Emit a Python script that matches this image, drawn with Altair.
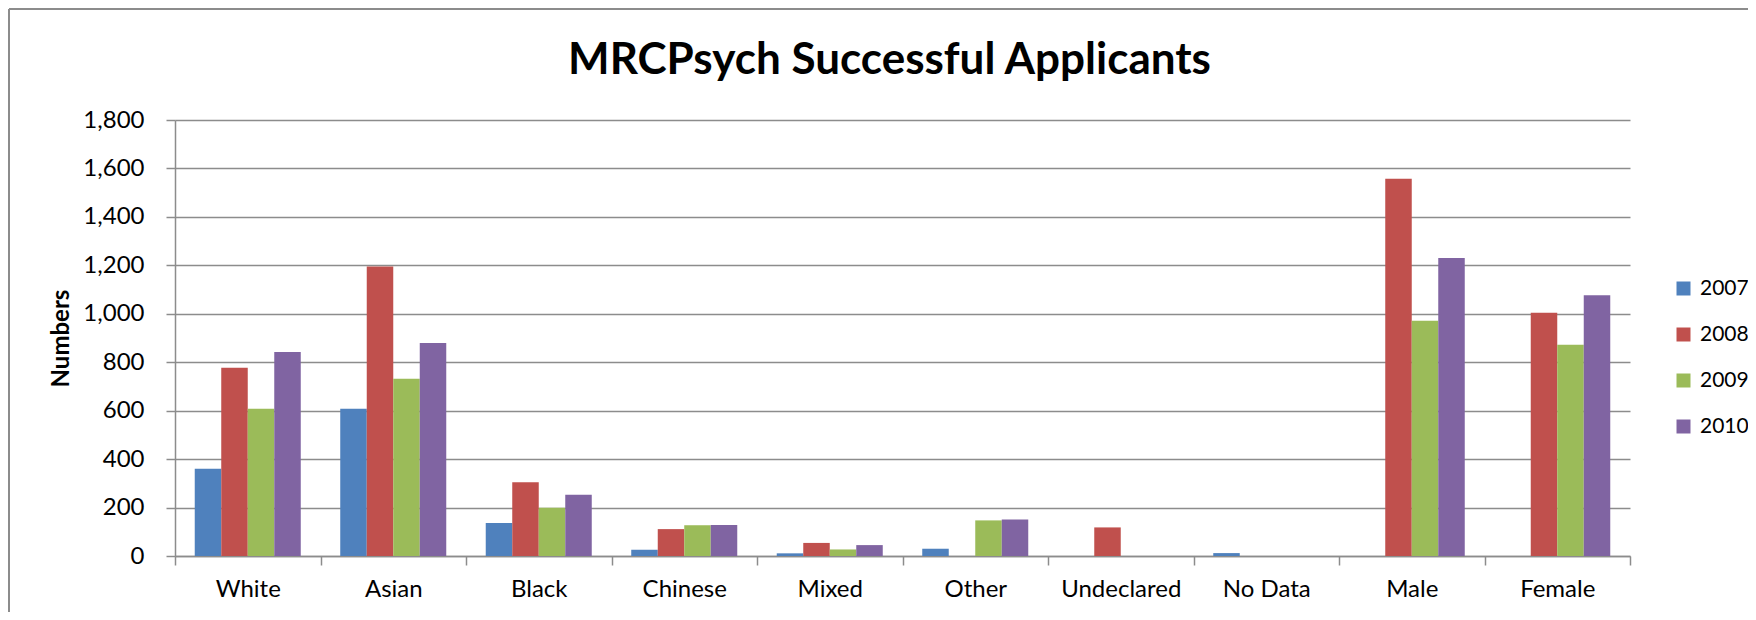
import altair as alt
import pandas as pd

categories = ["White", "Asian", "Black", "Chinese", "Mixed", "Other",
              "Undeclared", "No Data", "Male", "Female"]
years = ["2007", "2008", "2009", "2010"]
v2007 = [360, 608, 136, 26, 11, 30, 0, 12, 0, 0]
v2008 = [777, 1195, 304, 111, 54, 0, 118, 0, 1557, 1004]
v2009 = [608, 732, 199, 127, 27, 147, 0, 0, 971, 872]
v2010 = [842, 879, 253, 128, 45, 151, 0, 0, 1230, 1077]
colors = ["#4F81BD", "#C0504D", "#9BBB59", "#8064A2"]
y_ticks = [0, 200, 400, 600, 800, 1000, 1200, 1400, 1600, 1800]

series = {"2007": v2007, "2008": v2008, "2009": v2009, "2010": v2010}
rows = []
for yr in years:
    for cat, val in zip(categories, series[yr]):
        rows.append({"Category": cat, "Year": yr, "Value": val})
df = pd.DataFrame(rows)

W, H = 1455, 436
PAD = {"left": 167, "top": 112, "right": 118, "bottom": 56}
GREY = "#8c8c8c"

bars = alt.Chart(df).mark_bar().encode(
    x=alt.X("Category:N", sort=categories,
            scale=alt.Scale(paddingInner=0, paddingOuter=0),
            axis=alt.Axis(title=None, labelFont="Lato", labelFontSize=24,
                          labelColor="black", labelAngle=0, tickBand="extent",
                          ticks=True, tickSize=9, tickColor=GREY, tickWidth=1.5,
                          domainColor=GREY, domainWidth=1.5, labelPadding=12,
                          grid=False)),
    xOffset=alt.XOffset("Year:N", sort=years,
                        scale=alt.Scale(paddingInner=0, paddingOuter=0.745)),
    y=alt.Y("Value:Q", scale=alt.Scale(domain=[0, 1800], nice=False),
            axis=alt.Axis(values=y_ticks, format=",.0f", title="Numbers",
                          titleFont="Lato", titleFontSize=24, titleFontWeight="bold",
                          titleColor="black", titlePadding=14, titleBaseline="alphabetic",
                          labelFont="Lato", labelFontSize=24, labelColor="black",
                          labelPadding=22, tickSize=9, tickColor=GREY, tickWidth=1.5,
                          domainColor=GREY, domainWidth=1.5,
                          gridColor=GREY, gridWidth=1.5)),
    color=alt.Color("Year:N", scale=alt.Scale(domain=years, range=colors),
                    legend=alt.Legend(title=None, orient="none", legendX=1498, legendY=158,
                                      symbolType="square", symbolSize=196,
                                      symbolStrokeWidth=0, labelFont="Lato",
                                      labelFontSize=21, labelColor="black",
                                      labelOffset=6, rowPadding=24, padding=0)),
)

frame_data = alt.Data(values=[{"k": 0}])
top_line = alt.Chart(frame_data).mark_rule(color=GREY, strokeWidth=2).encode(
    x=alt.value(-166), x2=alt.value(W + PAD["right"]), y=alt.value(-111))
left_line = alt.Chart(frame_data).mark_rule(color=GREY, strokeWidth=2).encode(
    x=alt.value(-166), y=alt.value(-111), y2=alt.value(H + PAD["bottom"]))

chart = alt.layer(bars, top_line, left_line).properties(
    width=W, height=H,
    padding=PAD,
    autosize=alt.AutoSizeParams(type="none"),
    title=alt.TitleParams("MRCPsych Successful Applicants", font="Lato", fontSize=44,
                          fontWeight="bold", color="black", anchor="middle",
                          baseline="alphabetic", dx=-13, offset=0, dy=110),
).configure_view(stroke="transparent")

chart.save("out.html", embed_options={"renderer": "svg", "actions": False})
